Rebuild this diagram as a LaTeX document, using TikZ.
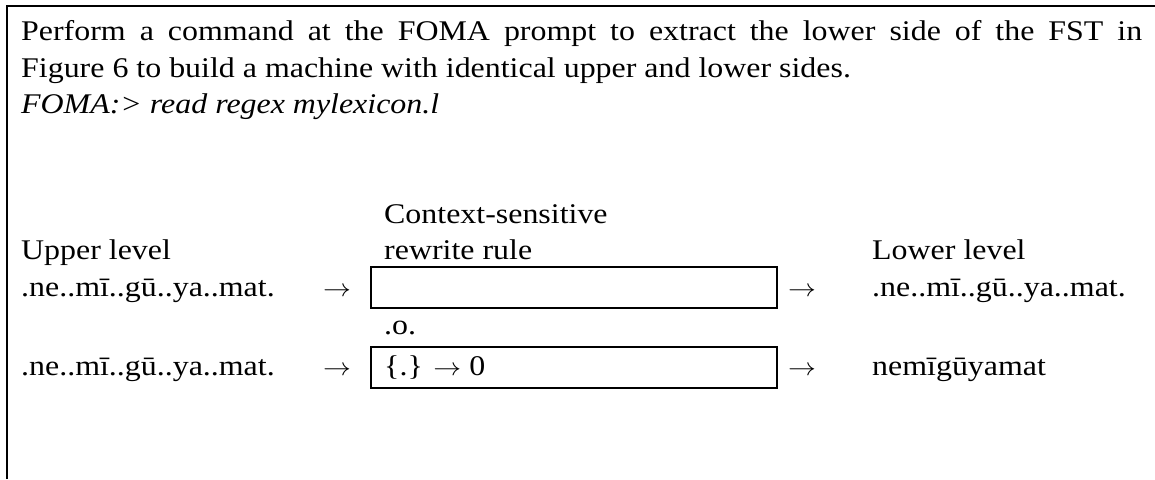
\documentclass[tikz,border=0pt]{standalone}
\usepackage{fontspec}
\setmainfont{Liberation Serif}[FakeStretch=1.12]
\newcommand{\rarr}{\scalebox{1.12}[1]{$\rightarrow$}}
\begin{document}
\begin{tikzpicture}[x=1pt,y=-1pt,
  txt/.style={anchor=base west,inner sep=0pt,font=\fontsize{28.5}{32}\selectfont},
  rulebox/.style={draw,line width=2pt,minimum width=406pt,minimum height=41pt,anchor=north west,inner sep=0pt},
  frame/.style={line width=2.2pt}]
\useasboundingbox (0,0) rectangle (1155,479);
% cell frame (top and left edges)
\coordinate (fr1) at (7,479);
\coordinate (fr2) at (7,6);
\coordinate (fr3) at (1155,6);
\draw[frame] (fr1) -- (fr2) -- (fr3);
% instructions
\node[txt] (l1) at (21,40) {\makebox[1121pt][s]{Perform a command at the FOMA prompt to extract the lower side of the FST in}};
\node[txt] (l2) at (21,77) {Figure 6 to build a machine with identical upper and lower sides.};
\node[txt] (l3) at (21,113) {\itshape FOMA:> read regex mylexicon.l};
% column headings
\node[txt] (ctx) at (384,223) {Context-sensitive};
\node[txt] (up) at (21,259) {Upper level};
\node[txt] (rw) at (384,259) {rewrite rule};
\node[txt] (lo) at (872,259) {Lower level};
% first cascade row
\node[txt] (in1) at (21,296) {.ne..mī..gū..ya..mat.};
\node[txt] (a1) at (323,296) {\rarr};
\node[rulebox] (box1) at (370,266) {};
\node[txt] (a2) at (788,296) {\rarr};
\node[txt] (out1) at (872,296) {.ne..mī..gū..ya..mat.};
% composition operator
\node[txt] (comp) at (384,334) {.o.};
% second cascade row
\node[txt] (in2) at (21,375) {.ne..mī..gū..ya..mat.};
\node[txt] (a3) at (323,375) {\rarr};
\node[rulebox] (box2) at (370,346) {};
\node[txt] (rule) at (384,375) {\{.\} \rarr\ 0};
\node[txt] (a4) at (788,375) {\rarr};
\node[txt] (out2) at (872,375) {nemīgūyamat};
\end{tikzpicture}
\end{document}
